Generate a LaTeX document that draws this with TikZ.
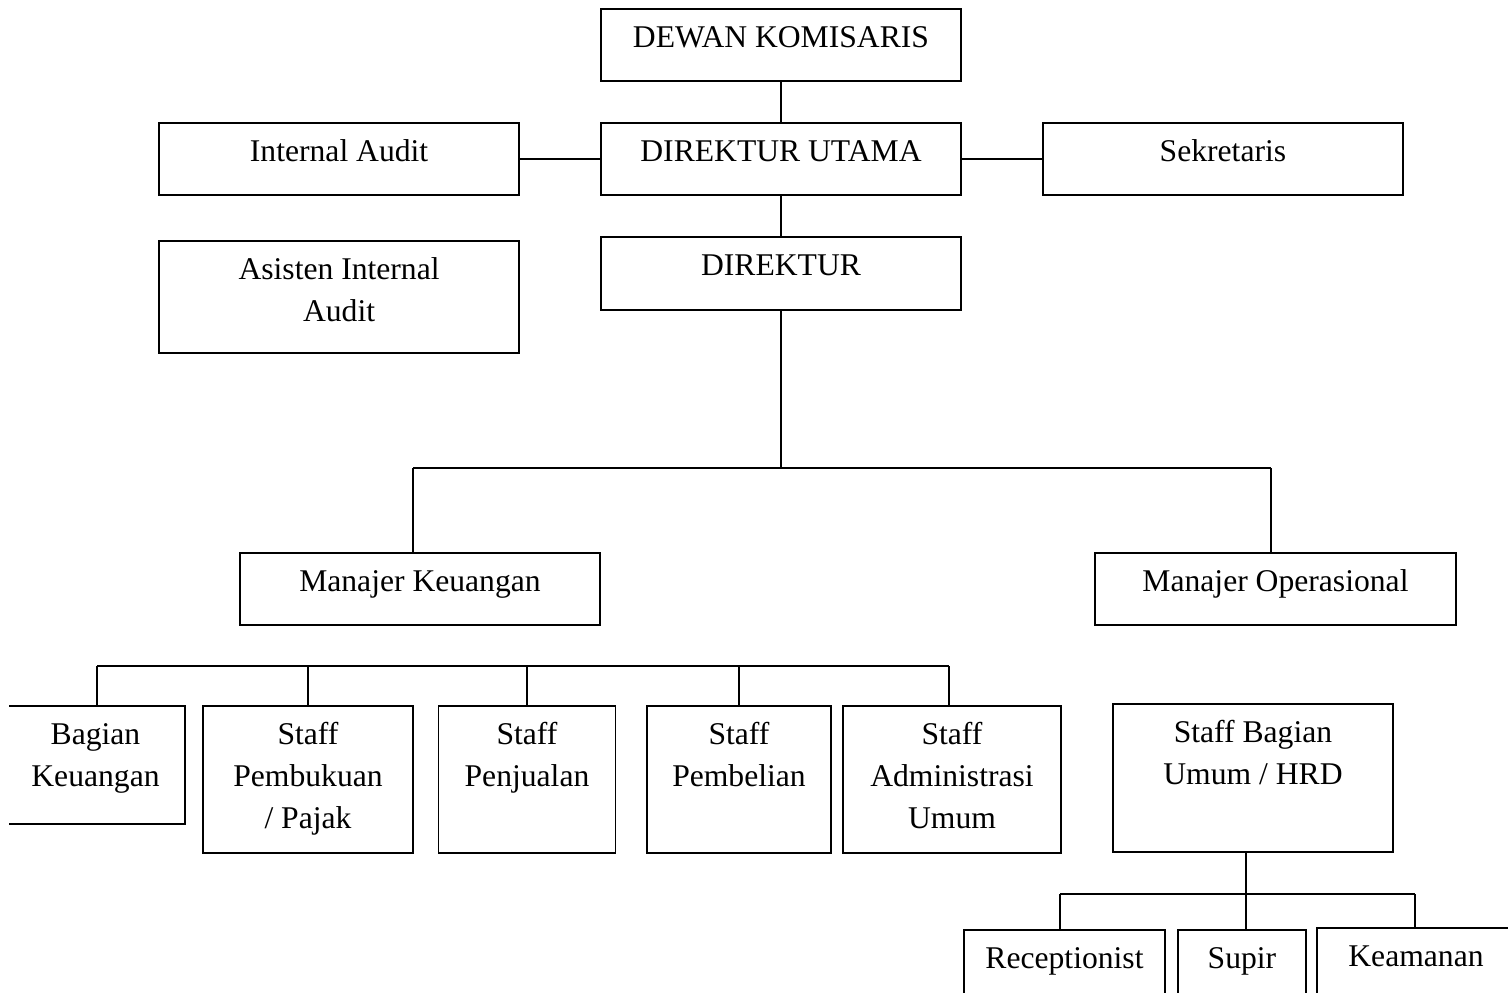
\documentclass[tikz,border=0pt]{standalone}
\usepackage{fontspec}
\setmainfont{Liberation Serif}
\usepackage{tikz}
\usetikzlibrary{shapes,arrows}
\usetikzlibrary{positioning}
\tikzstyle{block} = [rectangle, draw, line width=1pt, inner sep=0pt, font=\fontsize{18}{23.8}\selectfont]
\tikzstyle{line} = [draw, line width=1pt]
\newcommand{\boxtext}[3]{\parbox[c][#2][t]{#1}{\centering\rule{0pt}{22pt}#3}}

\begin{document}
\begin{tikzpicture}[x=0.02cm, y=-0.02cm]
	\useasboundingbox (0,0) rectangle (1508,992);
	\clip (9,0) rectangle (1508,992);
	% Place nodes
	\node [block] (komisaris) at (781,45) {\boxtext{7.2cm}{1.44cm}{DEWAN KOMISARIS}};
	\node [block, below of=komisaris, node distance=2.28cm] (utama) {\boxtext{7.2cm}{1.44cm}{DIREKTUR UTAMA}};
	\node [block, left of=utama, node distance=8.84cm] (audit) {\boxtext{7.2cm}{1.44cm}{Internal Audit}};
	\node [block, right of=utama, node distance=8.84cm] (sekretaris) {\boxtext{7.2cm}{1.44cm}{Sekretaris}};
	\node [block, below of=audit, node distance=2.76cm] (asisten) {\boxtext{7.2cm}{2.24cm}{Asisten Internal\\Audit}};
	\node [block, below of=utama, node distance=2.29cm] (direktur) {\boxtext{7.2cm}{1.46cm}{DIREKTUR}};
	\node [block] (mkeu) at (420,589) {\boxtext{7.2cm}{1.44cm}{Manajer Keuangan}};
	\node [block] (mops) at (1275.5,589) {\boxtext{7.22cm}{1.44cm}{Manajer Operasional}};
	\node [block] (bagian) at (95.5,765) {\boxtext{3.58cm}{2.36cm}{Bagian\\Keuangan}};
	\node [block] (pembukuan) at (308,779.5) {\boxtext{4.2cm}{2.94cm}{Staff\\Pembukuan\\/ Pajak}};
	\node [block] (penjualan) at (527,779.5) {\boxtext{3.54cm}{2.94cm}{Staff\\Penjualan}};
	\node [block] (pembelian) at (739,779.5) {\boxtext{3.68cm}{2.94cm}{Staff\\Pembelian}};
	\node [block] (administrasi) at (952,779.5) {\boxtext{4.36cm}{2.94cm}{Staff\\Administrasi\\Umum}};
	\node [block] (hrd) at (1253,778) {\boxtext{5.6cm}{2.96cm}{Staff Bagian\\Umum / HRD}};
	\node [block] (receptionist) at (1064.5,970) {\boxtext{4.02cm}{1.6cm}{Receptionist}};
	\node [block] (supir) at (1242,970) {\boxtext{2.56cm}{1.6cm}{Supir}};
	\node [block] (keamanan) at (1416,968) {\boxtext{3.96cm}{1.6cm}{Keamanan}};
	
	% Bus points
	\coordinate (dleft) at (413,468);
	\coordinate (dright) at (1271,468);
	\coordinate (kleft) at (97,666);
	\coordinate (kright) at (949,666);
	\coordinate (hleft) at (1060,894);
	\coordinate (hmid) at (1246,894);
	\coordinate (hright) at (1415,894);
	
	% Draw edges
	\path [line] (komisaris) -- (utama);
	\path [line] (audit) -- (utama);
	\path [line] (utama) -- (sekretaris);
	\path [line] (utama) -- (direktur);
	\path [line] (direktur) -- (direktur |- dleft);
	\path [line] (dleft) -- (dright);
	\path [line] (dleft) -- (dleft |- mkeu.north);
	\path [line] (dright) -- (dright |- mops.north);
	\path [line] (kleft) -- (kright);
	\path [line] (kleft) -- (kleft |- bagian.north);
	\path [line] (pembukuan.north |- kleft) -- (pembukuan.north);
	\path [line] (penjualan.north |- kleft) -- (penjualan.north);
	\path [line] (pembelian.north |- kleft) -- (pembelian.north);
	\path [line] (kright) -- (kright |- administrasi.north);
	\path [line] (hmid |- hrd.south) -- (hmid |- supir.north);
	\path [line] (hleft) -- (hright);
	\path [line] (hleft) -- (hleft |- receptionist.north);
	\path [line] (hright) -- (hright |- keamanan.north);
	
\end{tikzpicture}
\end{document}
